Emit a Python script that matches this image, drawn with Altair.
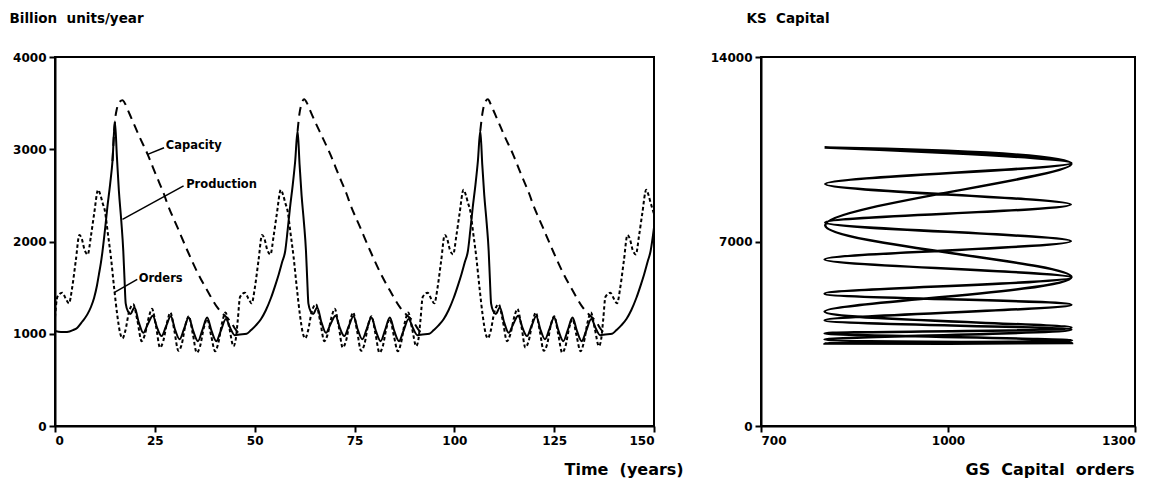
import altair as alt
import pandas as pd

FONT = "DejaVu Sans"

# ---------------- left panel: time series (years, billion units/year) -------------
ORD_T = [0.0, 0.6, 1.8, 2.7, 3.5, 4.3, 5.2, 6.1, 6.7, 7.4, 8.2, 9.0, 9.8, 10.8, 11.4, 11.9, 12.5, 13.2, 14.0, 14.8,
         15.6, 16.3, 16.9, 17.6, 18.5, 19.6, 20.6, 21.7, 22.5, 23.5, 24.3, 25.3, 26.3, 27.1, 28.1, 28.9, 29.9, 30.9,
         31.7, 32.7, 33.5, 34.5, 35.5, 36.3, 37.3, 38.1, 39.1, 40.1, 40.9, 41.9, 42.7, 43.7, 44.7, 45.3,
         45.75, 46.35, 47.55, 48.45, 49.25, 50.05, 50.95, 51.85, 52.45, 53.15, 53.95, 54.75, 55.55, 56.55, 57.15,
         57.65, 58.25, 58.95, 59.75, 60.55, 61.35, 62.05, 62.65, 63.35, 64.25, 65.35, 66.35, 67.45, 68.25, 69.25,
         70.05, 71.05, 72.05, 72.85, 73.85, 74.65, 75.65, 76.65, 77.45, 78.45, 79.25, 80.25, 81.25, 82.05, 83.05,
         83.85, 84.85, 85.85, 86.65, 87.65, 88.45, 89.45, 90.45, 91.05,
         91.5, 92.1, 93.3, 94.2, 95.0, 95.8, 96.7, 97.6, 98.2, 98.9, 99.7, 100.5, 101.3, 102.3, 102.9, 103.4, 104.0,
         104.7, 105.5, 106.3, 107.1, 107.8, 108.4, 109.1, 110.0, 111.1, 112.1, 113.2, 114.0, 115.0, 115.8, 116.8,
         117.8, 118.6, 119.6, 120.4, 121.4, 122.4, 123.2, 124.2, 125.0, 126.0, 127.0, 127.8, 128.8, 129.6, 130.6,
         131.6, 132.4, 133.4, 134.2, 135.2, 136.2, 136.8,
         137.25, 137.85, 139.05, 139.95, 140.75, 141.55, 142.45, 143.35, 143.95, 144.65, 145.45, 146.25, 147.05,
         148.05, 148.65, 149.15, 150.0]
ORD_V = [1180, 1400, 1445, 1380, 1330, 1500, 1790, 2070, 2030, 1910, 1860, 2060, 2300, 2560, 2500, 2420, 2330, 2100,
         1830, 1500, 1200, 1010, 950, 1030, 1230, 1320, 1150, 920, 990, 1180, 1270, 1080, 850, 920, 1130, 1230, 1030,
         815, 880, 1100, 1190, 1000, 795, 860, 1070, 1160, 980, 810, 900, 1130, 1230, 1050, 865, 950,
         1140, 1400, 1445, 1380, 1330, 1500, 1790, 2070, 2030, 1910, 1860, 2060, 2300, 2560, 2500, 2420, 2330, 2100,
         1830, 1500, 1200, 1010, 950, 1030, 1230, 1320, 1150, 920, 990, 1180, 1270, 1080, 850, 920, 1130, 1230, 1030,
         815, 880, 1100, 1190, 1000, 795, 860, 1070, 1160, 980, 810, 900, 1130, 1230, 1050, 865, 950,
         1140, 1400, 1445, 1380, 1330, 1500, 1790, 2070, 2030, 1910, 1860, 2060, 2300, 2560, 2500, 2420, 2330, 2100,
         1830, 1500, 1200, 1010, 950, 1030, 1230, 1320, 1150, 920, 990, 1180, 1270, 1080, 850, 920, 1130, 1230, 1030,
         815, 880, 1100, 1190, 1000, 795, 860, 1070, 1160, 980, 810, 900, 1130, 1230, 1050, 865, 950,
         1140, 1400, 1445, 1380, 1330, 1500, 1790, 2070, 2030, 1910, 1860, 2060, 2300, 2560, 2500, 2420, 2300]

PROD_T = [0.0, 1.5, 3.0, 4.5, 5.6, 6.8, 8.1, 9.0, 9.8, 10.5, 11.0, 11.5, 11.9, 12.5, 13.1, 13.8, 14.4, 15.0, 15.5,
          16.0, 16.6, 17.1, 17.4, 17.7, 18.3, 18.9, 19.9, 21.0, 22.1, 23.2, 24.5, 25.6, 26.7, 27.8, 29.0, 30.1, 31.2,
          32.3, 33.5, 34.6, 35.8, 36.9, 38.1, 39.2, 40.4, 41.5, 42.8, 43.9, 45.0,
          46.3, 48.0, 49.1, 50.3, 51.6, 52.8, 54.1, 55.2, 56.0, 56.9, 57.65, 58.25, 58.85, 59.55, 60.15, 60.75,
          61.25, 61.75, 62.35, 62.85, 63.15, 63.45, 64.05, 64.65, 65.65, 66.75, 67.85, 68.95, 70.25, 71.35, 72.45,
          73.55, 74.75, 75.85, 76.95, 78.05, 79.25, 80.35, 81.55, 82.65, 83.85, 84.95, 86.15, 87.25, 88.55, 89.65,
          90.75,
          92.05, 93.75, 94.85, 96.05, 97.35, 98.55, 99.85, 100.95, 101.75, 102.65, 103.4, 104.0, 104.6, 105.3, 105.9,
          106.5, 107.0, 107.5, 108.1, 108.6, 108.9, 109.2, 109.8, 110.4, 111.4, 112.5, 113.6, 114.7, 116.0, 117.1,
          118.2, 119.3, 120.5, 121.6, 122.7, 123.8, 125.0, 126.1, 127.3, 128.4, 129.6, 130.7, 131.9, 133.0, 134.3,
          135.4, 136.5,
          137.8, 139.5, 140.6, 141.8, 143.1, 144.3, 145.6, 146.7, 147.5, 148.4, 149.15, 150.0]
PROD_V = [1030, 1018, 1020, 1040, 1066, 1130, 1210, 1290, 1391, 1520, 1644, 1770, 1897, 2120, 2366, 2620, 2873, 3300,
          2920, 2547, 2222, 1897, 1600, 1330, 1240, 1215, 1285, 1120, 1010, 1100, 1195, 1060, 975, 1080, 1190, 1040,
          940, 1050, 1175, 1030, 920, 1040, 1175, 1030, 920, 1030, 1160, 1060, 985,
          992, 1000, 1040, 1090, 1160, 1255, 1390, 1530, 1640, 1780, 1897, 2120, 2366, 2620, 2873, 3200,
          2830, 2500, 2200, 1897, 1600, 1330, 1240, 1215, 1285, 1120, 1010, 1100, 1195, 1060, 975, 1080, 1190, 1040,
          940, 1050, 1175, 1030, 920, 1040, 1175, 1030, 920, 1030, 1160, 1060, 985,
          992, 1000, 1040, 1090, 1160, 1255, 1390, 1530, 1640, 1780, 1897, 2120, 2366, 2620, 2873, 3200,
          2830, 2500, 2200, 1897, 1600, 1330, 1240, 1215, 1285, 1120, 1010, 1100, 1195, 1060, 975, 1080, 1190, 1040,
          940, 1050, 1175, 1030, 920, 1040, 1175, 1030, 920, 1030, 1160, 1060, 985,
          992, 1000, 1040, 1090, 1160, 1255, 1390, 1530, 1640, 1780, 1897, 2150]

# capacity: the dashed parts (elsewhere it runs on the production curve)
CAP_SEG = [1] * 22 + [2] * 21 + [3] * 21
CAP_T = [14.4, 15.0, 15.5, 16.2, 16.9, 17.6, 18.3, 19.5, 21.0, 23.2, 25.3, 27.3, 28.2, 30.7, 33.2, 35.7, 38.2, 40.7,
         42.4, 44.0, 45.0, 46.3,
         60.75, 61.2, 61.8, 62.4, 63.1, 63.8, 65.0, 66.75, 68.95, 71.05, 73.05, 73.95, 76.45, 78.95, 81.45, 83.95,
         86.45, 88.15, 89.75, 90.75, 92.05,
         106.5, 107.0, 107.6, 108.4, 109.1, 109.8, 111.0, 112.5, 114.7, 116.8, 118.8, 119.7, 122.2, 124.7, 127.2,
         129.7, 132.2, 133.9, 135.5, 136.5, 137.8]
CAP_V = [2873, 3300, 3440, 3515, 3530, 3490, 3420, 3300, 3150, 2945, 2720, 2512, 2403, 2150, 1897, 1662, 1463, 1283,
         1200, 1130, 1060, 992,
         3200, 3380, 3500, 3541, 3500, 3430, 3310, 3150, 2945, 2720, 2512, 2403, 2150, 1897, 1662, 1463, 1283, 1200,
         1130, 1060, 992,
         3200, 3380, 3500, 3541, 3490, 3420, 3300, 3150, 2945, 2720, 2512, 2403, 2150, 1897, 1662, 1463, 1283, 1200,
         1130, 1060, 992]

# annotation labels with leader lines (text, label position, leader start on the curve)
ANN_TEXT = ["Capacity", "Production", "Orders"]
ANN_T = [27.5, 32.6, 20.7]
ANN_V = [3035, 2612, 1590]
LEAD_T = [23.2, 16.9, 14.8]
LEAD_V = [2945, 2240, 1445]
LEAD_T2 = [27.3, 32.2, 20.6]
LEAD_V2 = [3017, 2602, 1590]

# ---------------- right panel: phase plot -------------
GS_X = [802, 1198, 803, 1197, 803, 1197, 802, 1198, 802, 1198, 802, 1198, 802, 1199, 802, 1199, 802, 1198, 802,
        1198, 803, 1198, 802]
KS_Y = [10570, 9980, 9180, 8400, 7720, 7010, 6320, 5630, 5020, 4600, 4010, 3650, 3280, 3150, 3130, 3250, 3510, 3730,
        4340, 5650, 7620, 9950, 10570]

orders = pd.DataFrame({"t": ORD_T, "v": ORD_V})
prod = pd.DataFrame({"t": PROD_T, "v": PROD_V})
cap = pd.DataFrame({"t": CAP_T, "v": CAP_V, "seg": CAP_SEG})
ann = pd.DataFrame({"label": ANN_TEXT, "t": ANN_T, "v": ANN_V})
lead = pd.DataFrame({"t": LEAD_T, "v": LEAD_V, "t2": LEAD_T2, "v2": LEAD_V2})
phase = pd.DataFrame({"gs": GS_X, "ks": KS_Y, "i": list(range(len(GS_X)))})

LW, LH = 599, 369
RW, RH = 374, 369

xl = alt.X("t:Q", scale=alt.Scale(domain=[0, 150], nice=False),
           axis=alt.Axis(values=[0, 25, 50, 75, 100, 125, 150], format="d",
                         title="Time\u00a0\u00a0(years)", titleX=509, titleY=43, titleFontSize=16,
                         titleAlign="left", titleBaseline="middle"))
yl = alt.Y("v:Q", scale=alt.Scale(domain=[0, 4000], nice=False),
           axis=alt.Axis(values=[0, 1000, 2000, 3000, 4000], format="d",
                         title="Billion\u00a0\u00a0units/year", titleAngle=0, titleX=-46, titleY=-39,
                         titleAlign="left", titleBaseline="middle"))

prod_l = alt.Chart(prod).mark_line(color="black", strokeWidth=2, interpolate="monotone").encode(x=xl, y=yl)
ord_l = alt.Chart(orders).mark_line(color="black", strokeWidth=2, strokeDash=[3.5, 2.5],
                                    interpolate="monotone").encode(x=xl, y=yl)
cap_l = alt.Chart(cap).mark_line(color="black", strokeWidth=2, strokeDash=[9, 6],
                                 interpolate="monotone").encode(x=xl, y=yl, detail="seg:N")
lead_l = alt.Chart(lead).mark_rule(color="black", strokeWidth=1.5).encode(x=xl, y=yl, x2="t2:Q", y2="v2:Q")
ann_l = alt.Chart(ann).mark_text(align="left", baseline="middle", font=FONT, fontSize=11.5,
                                 fontWeight="bold", color="black", dx=1).encode(x=xl, y=yl, text="label:N")

left = alt.layer(prod_l, ord_l, cap_l, lead_l, ann_l).properties(width=LW, height=LH)

xr = alt.X("gs:Q", scale=alt.Scale(domain=[700, 1300], nice=False),
           axis=alt.Axis(values=[700, 1000, 1300], format="d",
                         title="GS\u00a0\u00a0Capital\u00a0\u00a0orders", titleX=204, titleY=43, titleFontSize=16,
                         titleAlign="left", titleBaseline="middle"))
yr = alt.Y("ks:Q", scale=alt.Scale(domain=[0, 14000], nice=False),
           axis=alt.Axis(values=[0, 7000, 14000], format="d",
                         title="KS\u00a0\u00a0Capital", titleAngle=0, titleX=-15, titleY=-39,
                         titleAlign="left", titleBaseline="middle"))
right = alt.Chart(phase).mark_line(color="black", strokeWidth=2.5, interpolate="catmull-rom").encode(
    x=xr, y=yr, order="i:Q").properties(width=RW, height=RH)

chart = alt.hconcat(left, right, spacing=24).properties(
    padding={"left": 0, "top": 2, "right": 0, "bottom": 4}, background="white"
).configure_view(stroke="black", strokeWidth=2).configure_axis(
    grid=False, domainColor="black", domainWidth=2, tickColor="black", tickWidth=2, tickSize=6,
    labelFont=FONT, labelFontSize=12, labelFontWeight="bold", labelColor="black", labelPadding=3,
    titleFont=FONT, titleFontSize=13.5, titleFontWeight="bold", titleColor="black"
).configure_axisX(labelPadding=3)

chart.save("out.html", embed_options={"renderer": "svg", "actions": False})
